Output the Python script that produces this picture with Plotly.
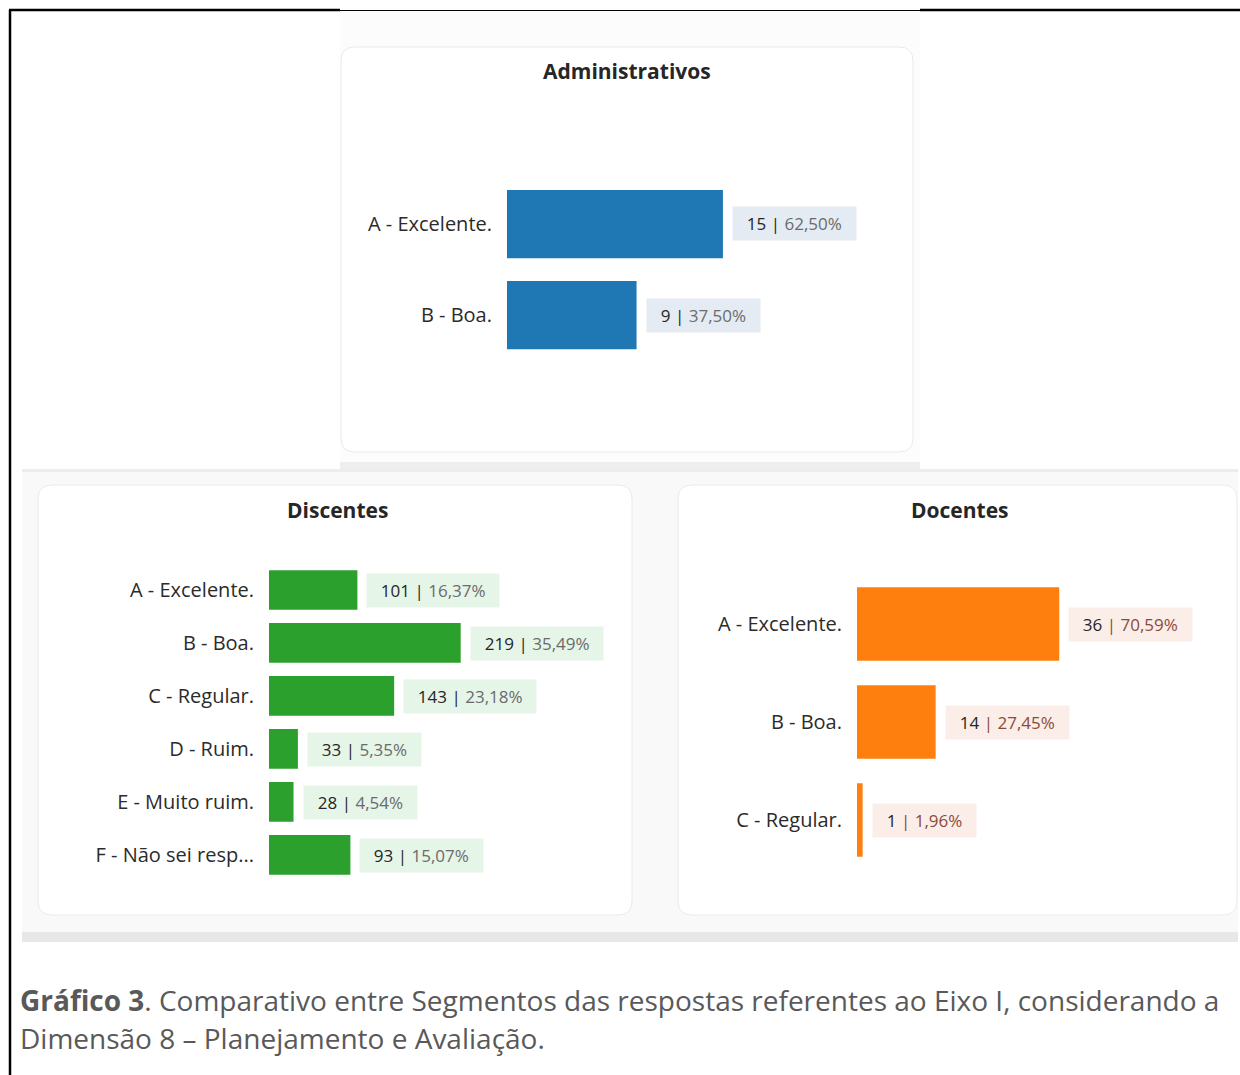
import plotly.graph_objects as go

W, H = 1240, 1075

# data
admin_cats = ["A - Excelente.", "B - Boa."]
admin_counts = [15, 9]
admin_pct = ["62,50%", "37,50%"]

disc_cats = ["A - Excelente.", "B - Boa.", "C - Regular.", "D - Ruim.",
             "E - Muito ruim.", "F - Não sei resp..."]
disc_counts = [101, 219, 143, 33, 28, 93]
disc_pct = ["16,37%", "35,49%", "23,18%", "5,35%", "4,54%", "15,07%"]

doc_cats = ["A - Excelente.", "B - Boa.", "C - Regular."]
doc_counts = [36, 14, 1]
doc_pct = ["70,59%", "27,45%", "1,96%"]

FONT = "Open Sans"
NB = "\u00a0\u00a0"


def fx(x):
    return x / W


def fy(y):
    return 1 - y / H


def rrect(x0, y0, x1, y1, r):
    # rounded rectangle path in paper coords (pixel input)
    rx, ry = r / W, r / H
    a, b, c, d = fx(x0), fy(y0), fx(x1), fy(y1)
    return (f"M {a+rx},{b} L {c-rx},{b} Q {c},{b} {c},{b-ry} "
            f"L {c},{d+ry} Q {c},{d} {c-rx},{d} L {a+rx},{d} "
            f"Q {a},{d} {a},{d+ry} L {a},{b-ry} Q {a},{b} {a+rx},{b} Z")


def box(x0, y0, x1, y1, fill):
    return dict(type="rect", xref="paper", yref="paper", layer="below",
                x0=fx(x0), x1=fx(x1), y0=fy(y1), y1=fy(y0),
                fillcolor=fill, line=dict(width=0))


panels = [
    # name, cats, counts, pct, color, pill bg, pct color, x axis px, y px, xrange
    ("Administrativos", admin_cats, admin_counts, admin_pct, "#1f77b4",
     "#e4ebf2", "#6b6b6b", (507, 900), (178.5, 360.5), 27.3, "", ""),
    ("Discentes", disc_cats, disc_counts, disc_pct, "#2ca02c",
     "#e5f5e8", "#6b6b6b", (269, 620), (563.5, 881.5), 401, "2", "2"),
    ("Docentes", doc_cats, doc_counts, doc_pct, "#ff7f0e",
     "#fbede7", "#8a4b3a", (857, 1225), (575, 869), 65.5, "3", "3"),
]

fig = go.Figure()
annotations = []
layout_axes = {}

for name, cats, counts, pct, color, pill, pcol, xpx, ypx, xmax, xs, ys in panels:
    xa = "x" + xs
    ya = "y" + ys
    fig.add_trace(go.Bar(
        x=counts, y=cats, orientation="h", marker=dict(color=color, line=dict(width=0)),
        xaxis=xa, yaxis=ya, hoverinfo="skip", showlegend=False,
    ))
    layout_axes["xaxis" + xs] = dict(
        domain=[fx(xpx[0]), fx(xpx[1])], range=[0, xmax], visible=False,
        anchor=ya, fixedrange=True,
    )
    layout_axes["yaxis" + ys] = dict(
        domain=[fy(ypx[1]), fy(ypx[0])], anchor=xa, type="category",
        categoryorder="array", categoryarray=cats, autorange="reversed",
        showgrid=False, zeroline=False, showline=False, ticks="",
        ticklabelstandoff=14,
        tickfont=dict(family=FONT, size=20, color="#2b2b2b"),
    )
    for c, n, p in zip(cats, counts, pct):
        if color == "#ff7f0e":
            txt = f"{NB}<span style='color:#262626'>{n}</span> <span style='color:{pcol}'>| {p}</span>{NB}"
        else:
            txt = f"{NB}<span style='color:#262626'>{n} |</span> <span style='color:{pcol}'>{p}</span>{NB}"
        annotations.append(dict(
            x=n, y=c, xref=xa, yref=ya, text=txt, showarrow=False,
            xanchor="left", yanchor="middle", xshift=9,
            bgcolor=pill, borderpad=5,
            font=dict(family=FONT, size=17),
        ))

titles = [("Administrativos", 627, 71), ("Discentes", 337, 510), ("Docentes", 960, 510)]
for t, x, y in titles:
    annotations.append(dict(
        x=fx(x), y=fy(y), xref="paper", yref="paper", text=f"<b>{t}</b>",
        showarrow=False, xanchor="center", yanchor="middle",
        font=dict(family=FONT, size=21, color="#262626"),
    ))

# caption
annotations.append(dict(
    x=fx(18), y=fy(1000), xref="paper", yref="paper", showarrow=False,
    xanchor="left", yanchor="middle",
    text="<b>Gráfico 3</b>. Comparativo entre Segmentos das respostas referentes ao Eixo I, considerando a",
    font=dict(family=FONT, size=28, color="#595959"),
))
annotations.append(dict(
    x=fx(18), y=fy(1038), xref="paper", yref="paper", showarrow=False,
    xanchor="left", yanchor="middle",
    text="Dimensão 8 – Planejamento e Avaliação.",
    font=dict(family=FONT, size=28, color="#595959"),
))

shapes = [
    # image backgrounds
    box(340, 11, 920, 470, "#fcfcfc"),
    box(340, 462, 920, 470, "#eeeeee"),
    box(22, 470, 1238, 942, "#f9f9f9"),
    box(22, 469, 1238, 472, "#ededed"),
    box(22, 932, 1238, 942, "#e7e7e7"),
    # document frame
    dict(type="line", xref="paper", yref="paper", x0=fx(10), x1=fx(10), y0=0, y1=fy(10),
         line=dict(color="black", width=2.5)),
    dict(type="line", xref="paper", yref="paper", x0=fx(9), x1=fx(340), y0=fy(10), y1=fy(10),
         line=dict(color="black", width=2.5)),
    dict(type="line", xref="paper", yref="paper", x0=fx(340), x1=fx(920), y0=fy(10.5), y1=fy(10.5),
         line=dict(color="black", width=1)),
    dict(type="line", xref="paper", yref="paper", x0=fx(920), x1=1, y0=fy(10), y1=fy(10),
         line=dict(color="black", width=2.5)),
]
for x0, y0, x1, y1 in [(341, 47, 913, 452), (38, 485, 632, 915), (678, 485, 1237, 915)]:
    shapes.append(dict(type="path", xref="paper", yref="paper", layer="below",
                       path=rrect(x0, y0, x1, y1, 14), fillcolor="white",
                       line=dict(color="#eaeaea", width=1)))

fig.update_layout(
    width=W, height=H, margin=dict(l=0, r=0, t=0, b=0),
    paper_bgcolor="white", plot_bgcolor="rgba(0,0,0,0)",
    bargap=0.25, showlegend=False,
    shapes=shapes, annotations=annotations,
    **layout_axes,
)

fig.write_html("out.html", config={"displayModeBar": False},
               post_script="document.body.style.margin='0px';")
